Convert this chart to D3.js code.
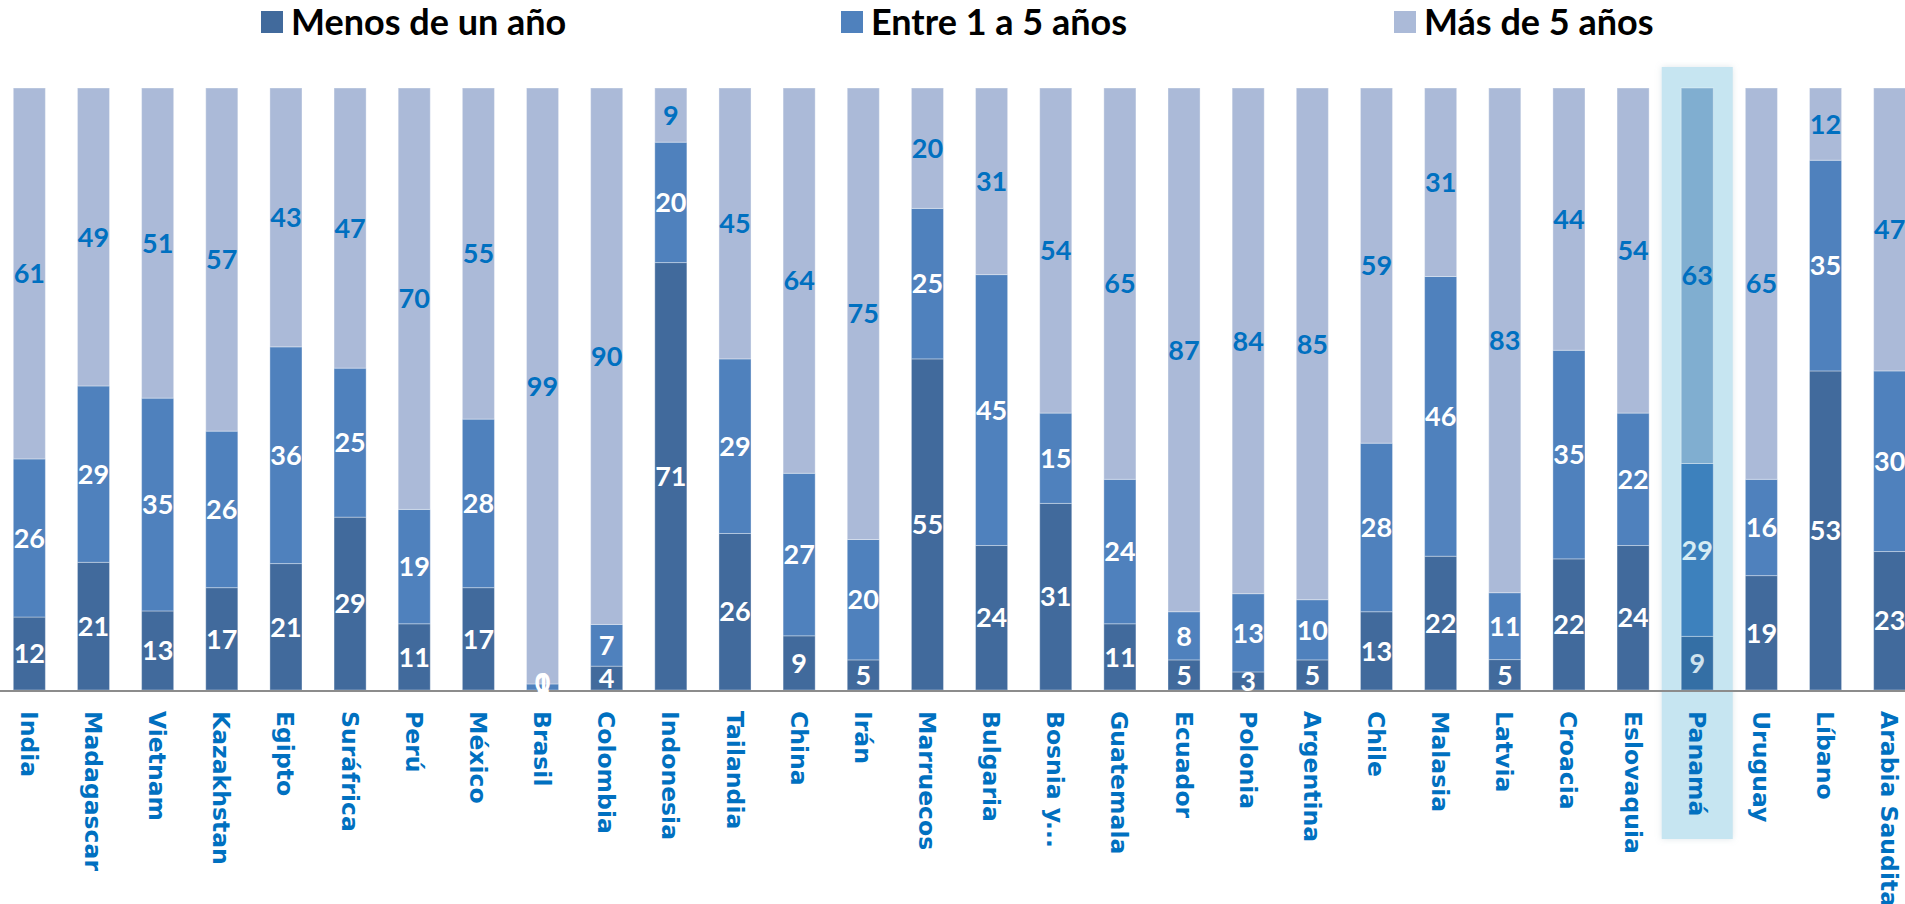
<!DOCTYPE html>
<html>
<head>
<meta charset="utf-8">
<script src="https://cdn.jsdelivr.net/npm/d3@7"></script>
<style>
  html, body { margin: 0; padding: 0; background: #fff; overflow: hidden; }
  .chart svg { display: block; }
</style>
</head>
<body>
<div class="chart"></div>
<script>
// data
var countries = ["India", "Madagascar", "Vietnam", "Kazakhstan", "Egipto", "Suráfrica", "Perú", "México",
  "Brasil", "Colombia", "Indonesia", "Tailandia", "China", "Irán", "Marruecos", "Bulgaria", "Bosnia y...",
  "Guatemala", "Ecuador", "Polonia", "Argentina", "Chile", "Malasia", "Latvia", "Croacia", "Eslovaquia",
  "Panamá", "Uruguay", "Líbano", "Arabia Saudita"];
var seriesNames = ["Menos de un año", "Entre 1 a 5 años", "Más de 5 años"];
var menosUnAno = [12, 21, 13, 17, 21, 29, 11, 17, 0, 4, 71, 26, 9, 5, 55, 24, 31, 11, 5, 3, 5, 13, 22, 5, 22, 24, 9, 19, 53, 23];
var entre1y5 = [26, 29, 35, 26, 36, 25, 19, 28, 1, 7, 20, 29, 27, 20, 25, 45, 15, 24, 8, 13, 10, 28, 46, 11, 35, 22, 29, 16, 35, 30];
var masDe5 = [61, 49, 51, 57, 43, 47, 70, 55, 99, 90, 9, 45, 64, 75, 20, 31, 54, 65, 87, 84, 85, 59, 31, 83, 44, 54, 63, 65, 12, 47];
var highlighted = "Panamá";

var width = 1905;
var height = 904;
var plotTop = 88, baseline = 690;
var step = 64.15;
var x0 = 13.3 - 0.25 * step;

var colors = ["#416a9c", "#4f81bd", "#abbad8"];
var hiColors = ["#346fa5", "#3d81bd", "#80aed0"];
var labelColors = ["#ffffff", "#ffffff", "#0070c0"];
var hiLabelColors = ["#cfe3ee", "#d6ecf4", "#0070c0"];

var rows = countries.map(function(c, i) {
  return { country: c, s0: menosUnAno[i], s1: entre1y5[i], s2: masDe5[i] };
});

var xScale = d3.scaleBand()
  .domain(countries)
  .range([x0, x0 + countries.length * step])
  .paddingInner(0.5)
  .paddingOuter(0.25);

var yScale = d3.scaleLinear().domain([0, 1]).range([baseline, plotTop]);

var stack = d3.stack().keys(["s0", "s1", "s2"]).offset(d3.stackOffsetExpand);
var stacked = stack(rows);

var svg = d3.select(".chart").append("svg")
  .attr("width", width)
  .attr("height", height);

var defs = svg.append("defs");
var f = defs.append("filter").attr("id", "glow")
  .attr("x", "-20%").attr("y", "-5%").attr("width", "140%").attr("height", "110%");
f.append("feDropShadow").attr("dx", 0).attr("dy", 0).attr("stdDeviation", 3)
  .attr("flood-color", "#9fb7c2").attr("flood-opacity", 0.35);

/* highlight band behind Panamá */
var hx = xScale(highlighted) + xScale.bandwidth() / 2;
svg.append("rect")
  .attr("x", hx - 35.5)
  .attr("y", 67)
  .attr("width", 71)
  .attr("height", 772)
  .attr("fill", "#c6e5f1")
  .attr("filter", "url(#glow)");

/* bars */
svg.append("g").selectAll("g")
  .data(stacked).enter()
  .append("g")
  .selectAll("rect")
  .data(function(d) { return d.map(function(p) { p.idx = d.index; return p; }); })
  .enter().append("rect")
  .attr("x", function(d) { return xScale(d.data.country); })
  .attr("y", function(d) { return yScale(d[1]); })
  .attr("width", xScale.bandwidth())
  .attr("height", function(d) { return yScale(d[0]) - yScale(d[1]); })
  .attr("fill", function(d) { return d.data.country === highlighted ? hiColors[d.idx] : colors[d.idx]; })
  .attr("stroke", "#ffffff")
  .attr("stroke-opacity", 0.35)
  .attr("stroke-width", 1);

/* axis line */
svg.append("line")
  .attr("x1", 0).attr("x2", width)
  .attr("y1", baseline + 1).attr("y2", baseline + 1)
  .attr("stroke", "#8c8c8c")
  .attr("stroke-width", 2);

/* value labels, on top of every bar */
svg.append("g").selectAll("g")
  .data(stacked).enter()
  .append("g")
  .selectAll("text")
  .data(function(d) { return d; })
  .enter().append("text")
  .attr("x", function(d) { return xScale(d.data.country) + xScale.bandwidth() / 2; })
  .attr("y", function(d) {
    var mid = (yScale(d[0]) + yScale(d[1])) / 2;
    return Math.min(mid, baseline - 8);
  })
  .attr("dy", "0.36em")
  .attr("text-anchor", "middle")
  .style("font-family", "Lato, 'Open Sans', sans-serif")
  .style("font-weight", "bold")
  .style("font-size", "27px")
  .attr("fill", function(d) { return d.data.country === highlighted ? hiLabelColors[d.idx] : labelColors[d.idx]; })
  .text(function(d) { return d.data["s" + d.idx]; });

/* category labels, rotated */
var xAxis = d3.axisBottom(xScale).tickSize(0).tickPadding(0);
var axisG = svg.append("g")
  .attr("transform", "translate(0," + baseline + ")")
  .call(xAxis);
axisG.select(".domain").remove();
axisG.selectAll("text")
  .attr("transform", "translate(0,21) rotate(90)")
  .attr("x", 0).attr("y", 0)
  .attr("dy", "0.36em")
  .attr("text-anchor", "start")
  .style("font-family", "'DejaVu Sans', Verdana, sans-serif")
  .style("font-weight", "bold")
  .style("font-size", "23.5px")
  .attr("fill", "#0070c0");

/* legend */
var legendX = [261, 841, 1394];
var legend = svg.append("g").selectAll("g")
  .data(seriesNames).enter()
  .append("g")
  .attr("transform", function(d, i) { return "translate(" + legendX[i] + ",0)"; });
legend.append("rect")
  .attr("x", 0).attr("y", 11)
  .attr("width", 22).attr("height", 22)
  .attr("fill", function(d, i) { return colors[i]; });
legend.append("text")
  .attr("x", 30).attr("y", 35)
  .style("font-family", "Lato, sans-serif")
  .style("font-weight", "bold")
  .style("font-size", "36px")
  .attr("fill", "#000")
  .text(function(d) { return d; });
</script>
</body>
</html>
